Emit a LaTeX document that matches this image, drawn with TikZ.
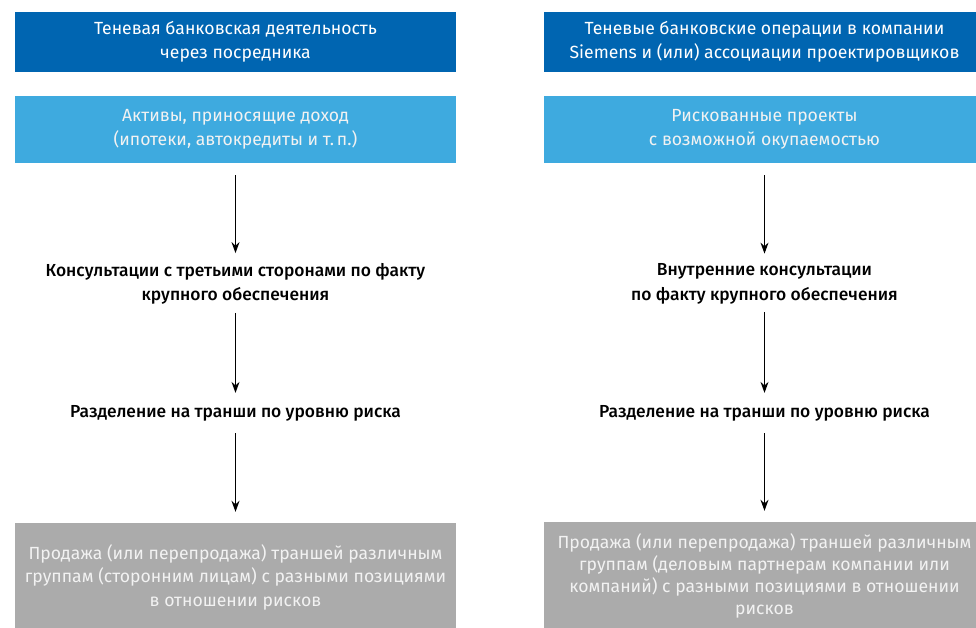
\documentclass[tikz,border=0pt]{standalone}
\usepackage{fontspec}
\setmainfont{Fira Sans}
\newfontfamily\medfont{Fira Sans}[UprightFont=* Medium]
\usetikzlibrary{arrows.meta}
\definecolor{darkblue}{RGB}{0,101,177}
\definecolor{lightblue}{RGB}{62,170,223}
\definecolor{greybox}{RGB}{171,171,171}
\definecolor{greytext}{RGB}{242,242,242}
\tikzset{
  box/.style={minimum width=441pt, inner sep=0pt, align=center, font=\fontsize{17.6}{23.5}\selectfont},
  topbox/.style={box, fill=darkblue, text=white, minimum height=60pt},
  assetbox/.style={box, fill=lightblue, text=greytext, minimum height=67pt},
  salebox/.style={box, fill=greybox, text=greytext, minimum height=108pt},
  plain/.style={align=center, inner sep=0pt, text=black, font=\medfont\fontsize{17.4}{24.5}\selectfont},
  flow/.style={-{Stealth[length=11pt,width=8pt]}, line width=1.1pt, black}
}
\begin{document}
\begin{tikzpicture}[x=1pt,y=1pt]
\useasboundingbox (0,0) rectangle (976,-628);
\clip (0,0) rectangle (976,-628);
% left column
\node[topbox] (lt) at (235.5,-42) {Теневая банковская деятельность\\через посредника};
\node[assetbox] (la) at (235.5,-129.5) {Активы, приносящие доход\\(ипотеки, автокредиты и т.\,п.)};
\node[plain] (lc) at (235.5,-284) {Консультации с третьими сторонами по факту\\крупного обеспечения};
\node[plain] (ld) at (235.5,-413) {Разделение на транши по уровню риска};
\node[salebox] (ls) at (235.5,-577) {Продажа (или перепродажа) траншей различным\\группам (сторонним лицам) с разными позициями\\в отношении рисков};
% right column
\node[topbox] (rt) at (764.5,-42) {Теневые банковские операции в компании\\Siemens и (или) ассоциации проектировщиков};
\node[assetbox] (ra) at (764.5,-129.5) {Рискованные проекты\\с возможной окупаемостью};
\node[plain] (rc) at (764.5,-284) {Внутренние консультации\\по факту крупного обеспечения};
\node[plain] (rd) at (764.5,-413) {Разделение на транши по уровню риска};
\node[salebox, font=\fontsize{17.6}{22}\selectfont] (rs) at (764.5,-576) {Продажа (или перепродажа) траншей различным\\группам (деловым партнерам компании или\\компаний) с разными позициями в отношении\\рисков};
% arrows
\foreach \c in {l,r}{
  \draw[flow, shorten <=12pt, shorten >=10pt] (\c a.south) -- (\c c.north);
  \draw[flow, shorten <=8pt, shorten >=12pt] (\c c.south) -- (\c d.north);
  \draw[flow, shorten <=12pt, shorten >=11pt] (\c d.south) -- (\c s.north);
}
\end{tikzpicture}
\end{document}
